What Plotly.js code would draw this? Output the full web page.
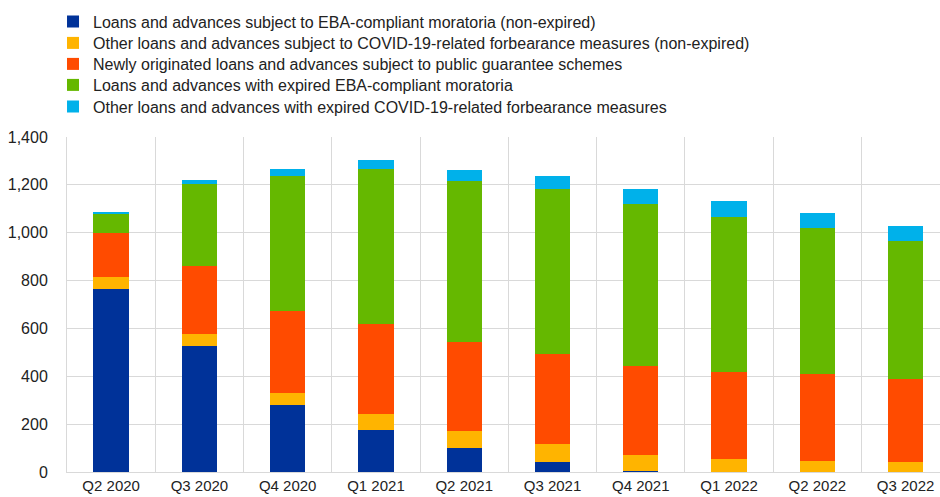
<!DOCTYPE html>
<html>
<head>
<meta charset="utf-8">
<script src="https://cdn.plot.ly/plotly-3.0.1.min.js"></script>
<style>
  html, body { margin: 0; padding: 0; background: #ffffff; overflow: hidden; }
  #chart { width: 940px; height: 497px; }
</style>
</head>
<body>
<div id="chart"></div>
<script>
// Quarters on the horizontal axis
const quarters = ["Q2 2020", "Q3 2020", "Q4 2020", "Q1 2021", "Q2 2021",
                  "Q3 2021", "Q4 2021", "Q1 2022", "Q2 2022", "Q3 2022"];

// EUR billions, stacked from bottom to top
const moratoriaActive   = [765, 528, 278, 176, 100, 42, 4, 0, 0, 0];
const otherForbearance  = [50, 48, 53, 67, 70, 77, 69, 56, 47, 42];
const publicGuarantee   = [183, 285, 340, 375, 374, 374, 371, 364, 361, 345];
const moratoriaExpired  = [80, 341, 564, 649, 673, 689, 675, 645, 610, 578];
const otherExpired      = [9, 17, 31, 38, 46, 55, 63, 67, 65, 62];

const seriesNames = [
  "Loans and advances subject to EBA-compliant moratoria (non-expired)",
  "Other loans and advances subject to COVID-19-related forbearance measures (non-expired)",
  "Newly originated loans and advances subject to public guarantee schemes",
  "Loans and advances with expired EBA-compliant moratoria",
  "Other loans and advances with expired COVID-19-related forbearance measures"
];
const seriesColors = ["#003299", "#FFB400", "#FF4B00", "#65B800", "#00B1EA"];
const seriesValues = [moratoriaActive, otherForbearance, publicGuarantee, moratoriaExpired, otherExpired];

// one legend per series so the rows can sit on a tight 21px pitch
const legendIds = ["legend", "legend2", "legend3", "legend4", "legend5"];
const legendRowY = [21.5, 43, 64, 85, 106.5];

const traces = seriesValues.map((vals, i) => ({
  type: "bar",
  x: quarters,
  y: vals,
  name: seriesNames[i],
  legend: legendIds[i],
  marker: { color: seriesColors[i], line: { width: 0 } },
  width: 0.4,
  hoverinfo: "x+y+name"
}));

const H = 497;

const layout = {
  width: 940,
  height: H,
  barmode: "stack",
  paper_bgcolor: "#ffffff",
  plot_bgcolor: "#ffffff",
  font: { family: "Liberation Sans, Arial, sans-serif", size: 16, color: "#222222" },
  margin: { l: 67, r: 0, t: 137, b: 25, pad: 0, autoexpand: false },
  showlegend: true,
  xaxis: {
    type: "category",
    range: [-0.5, 9.39],
    tickson: "boundaries",
    showgrid: true,
    gridcolor: "#d9d9d9",
    gridwidth: 1,
    ticks: "",
    showline: true,
    linecolor: "#d9d9d9",
    linewidth: 1,
    tickangle: 0,
    tickfont: { size: 15, color: "#222222" },
    fixedrange: true
  },
  yaxis: {
    range: [0, 1400],
    dtick: 200,
    tickformat: ",",
    showgrid: true,
    gridcolor: "#d9d9d9",
    gridwidth: 1,
    zeroline: false,
    showline: true,
    linecolor: "#d9d9d9",
    linewidth: 1,
    ticks: "",
    ticklabelstandoff: 15,
    tickfont: { size: 16, color: "#222222" },
    fixedrange: true
  }
};

legendIds.forEach((id, i) => {
  layout[id] = {
    orientation: "v",
    x: 0.0564,
    xanchor: "left",
    xref: "container",
    y: 1 - legendRowY[i] / H,
    yanchor: "middle",
    yref: "container",
    font: { size: 16, color: "#222222" },
    bgcolor: "rgba(0,0,0,0)",
    borderwidth: 0
  };
});

Plotly.newPlot("chart", traces, layout, { displayModeBar: false, staticPlot: true });
</script>
</body>
</html>
